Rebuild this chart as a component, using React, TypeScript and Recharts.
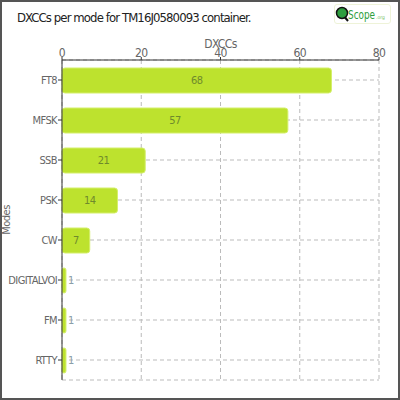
import React from 'react'
import { BarChart, Bar, XAxis, YAxis, CartesianGrid, LabelList } from 'recharts'

// DXCC counts per mode
const modes = ['FT8', 'MFSK', 'SSB', 'PSK', 'CW', 'DIGITALVOI', 'FM', 'RTTY']
const dxccs = [68, 57, 21, 14, 7, 1, 1, 1]
const xTicks = [0, 20, 40, 60, 80]

const chartData = modes.map((mode, i) => ({ mode, dxccs: dxccs[i] }))

const FONT = '"DejaVu Sans Condensed", "DejaVu Sans", sans-serif'

function BarValue(props: any) {
    const { x, y, width, height, value } = props
    const inside = width > 20
    return (
        <text
            x={inside ? x + width / 2 : x + width + 2}
            y={y + height / 2}
            textAnchor={inside ? 'middle' : 'start'}
            dominantBaseline="central"
            fontSize={11}
            letterSpacing={-0.5}
            fontFamily={FONT}
            fill={inside ? '#6f8a2c' : '#8a9ea8'}
        >
            {value}
        </text>
    )
}

function ModesLabel(props: any) {
    const { viewBox } = props
    const cx = 6
    const cy = viewBox.y + viewBox.height / 2
    return (
        <text
            x={cx}
            y={cy}
            transform={`rotate(-90 ${cx} ${cy})`}
            textAnchor="middle"
            dominantBaseline="central"
            fontSize={11}
            letterSpacing={-0.5}
            fontFamily={FONT}
            fill="#666"
        >
            Modes
        </text>
    )
}

function Logo() {
    return (
        <div
            style={{
                position: 'absolute', left: 332, top: 2, width: 57, height: 20,
                border: '1px solid #eef3d8', borderRadius: 3, boxSizing: 'border-box'
            }}
        >
            <svg width={55} height={18} style={{ display: 'block' }}>
                <line x1={8} y1={10} x2={13} y2={16} stroke="#111" strokeWidth={2} />
                <circle cx={7} cy={8} r={5.5} fill="#2e9e3e" stroke="#111" strokeWidth={1.5} />
                <text x={13} y={14} fontSize={13} textLength={27} lengthAdjust="spacingAndGlyphs" fontFamily={FONT} fill="#2e9e3e">Scope</text>
                <text x={41} y={14} fontSize={5} fontFamily={FONT} fill="#7bbf6a">.org</text>
            </svg>
        </div>
    )
}

export default function App() {
    return (
        <div
            style={{
                position: 'fixed', left: 0, top: 0, width: 400, height: 400,
                border: '2px solid #555', boxSizing: 'border-box', background: '#fff', fontFamily: FONT
            }}
        >
            <div style={{ position: 'absolute', left: 15, top: 8, fontSize: 13, letterSpacing: -0.9, color: '#222' }}>
                DXCCs per mode for TM16J0580093 container.
            </div>
            <Logo />
            <div style={{ position: 'absolute', left: -2, top: -2 }}>
                <BarChart
                    width={400}
                    height={400}
                    data={chartData}
                    layout="vertical"
                    margin={{ top: 30, right: 21, bottom: 20, left: 0 }}
                    barSize={25}
                >
                    <CartesianGrid stroke="#bbb" strokeDasharray="4 3" />
                    <XAxis
                        type="number"
                        orientation="top"
                        domain={[0, 80]}
                        ticks={xTicks}
                        height={30}
                        tickSize={3}
                        tickMargin={0}
                        stroke="#333"
                        tick={{ fill: '#666', fontSize: 12, fontFamily: FONT, letterSpacing: -0.5 }}
                        label={{ value: 'DXCCs', position: 'insideTop', offset: 9, fill: '#666', fontSize: 12, fontFamily: FONT, letterSpacing: -0.6 }}
                    />
                    <YAxis
                        type="category"
                        dataKey="mode"
                        width={62}
                        tickSize={4}
                        tickMargin={1}
                        stroke="#333"
                        tick={{ fill: '#666', fontSize: 11, fontFamily: FONT, letterSpacing: -0.6 }}
                        label={{ content: ModesLabel }}
                    />
                    <Bar
                        dataKey="dxccs"
                        fill="#bde22e"
                        stroke="#d4ef6a"
                        strokeWidth={1}
                        radius={3}
                        isAnimationActive={false}
                    >
                        <LabelList dataKey="dxccs" content={BarValue} />
                    </Bar>
                </BarChart>
            </div>
        </div>
    )
}
